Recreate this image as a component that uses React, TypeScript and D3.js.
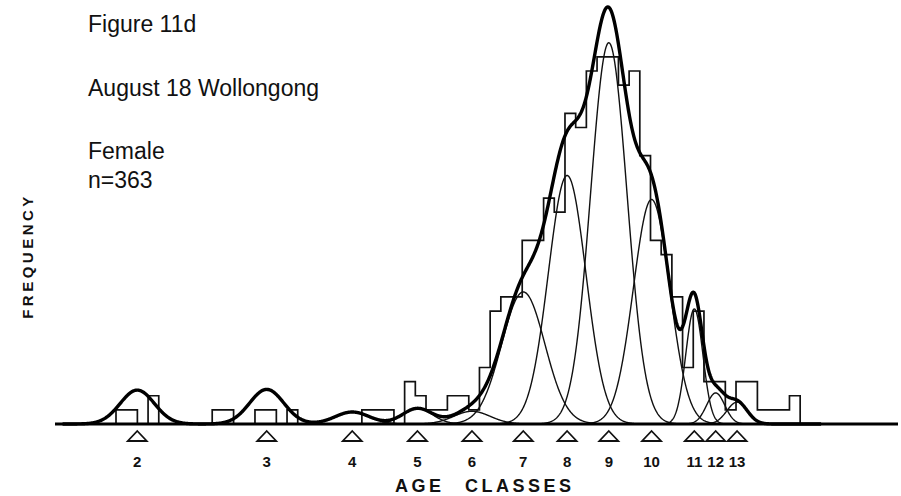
import React from "react";
import * as d3 from "d3";

// Histogram counts per size bin (bin index 0..63), n = 363
const binCounts = [
  1, 1, 0, 2, 0, 0, 0, 0, 0, 1, 1, 0, 0, 1, 1, 0, 1, 0, 0, 0, 0, 0, 0,
  1, 1, 1, 0, 3, 2, 1, 1, 2, 2, 1,
  4, 8, 9, 9, 13, 13, 16, 15, 22, 21,
  25, 26, 26, 24, 25, 19, 13, 12, 9, 4,
  8, 3, 3, 1, 3, 3, 1, 1, 1, 2,
];

// Fitted age-class components (means/sd in bin units, peak in counts)
const classLabels = ["2", "3", "4", "5", "6", "7", "8", "9", "10", "11", "12", "13"];
const classMeans = [1.99, 14.1, 22.1, 28.2, 33.3, 38.1, 42.2, 46.1, 50.1, 54.1, 56.1, 58.1];
const classSDs = [1.6, 1.6, 1.6, 1.4, 1.7, 2.02, 1.76, 1.7, 1.7, 0.8, 0.85, 0.95];
const classPeaks = [2.4, 2.45, 0.85, 1.1, 0.9, 9.35, 17.6, 27.0, 15.9, 8.15, 2.2, 1.55];

const titleLines = ["Figure 11d", "August 18 Wollongong", "Female", "n=363"];

const W = 901;
const H = 496;
const FONT = "'Liberation Sans', Arial, Helvetica, sans-serif";

export default function App() {
  const x = d3.scaleLinear().domain([0, 64]).range([116, 116 + 64 * 10.69]);
  const y = d3.scaleLinear().domain([0, 26]).range([424, 424 - 26 * 14.12]);

  // histogram step outline
  const histPts: [number, number][] = [];
  histPts.push([0, 0]);
  binCounts.forEach((c, i) => {
    histPts.push([i, c]);
    histPts.push([i + 1, c]);
  });
  histPts.push([binCounts.length, 0]);
  const histLine = d3
    .line<[number, number]>()
    .x((d) => x(d[0]))
    .y((d) => y(d[1]));

  const gauss = (k: number, i: number) =>
    classPeaks[i] * Math.exp(-((k - classMeans[i]) ** 2) / (2 * classSDs[i] ** 2));

  const curve = d3
    .line<[number, number]>()
    .x((d) => x(d[0]))
    .y((d) => y(d[1]))
    .curve(d3.curveLinear);

  const compPaths = classMeans.map((m, i) => {
    const s = classSDs[i];
    const ks = d3.range(m - 4.5 * s, m + 4.5 * s, 0.04);
    return curve(ks.map((k) => [k, gauss(k, i)] as [number, number]));
  });

  const totalKs = d3.range(-5, 66, 0.04);
  const totalPath = curve(
    totalKs.map((k) => [k, d3.sum(classMeans, (_, i) => gauss(k, i))] as [number, number])
  );

  const baseY = y(0);

  return (
    <svg
      width={W}
      height={H}
      style={{ position: "absolute", left: 0, top: 0, background: "#fff" }}
      fontFamily={FONT}
    >
      <rect x={0} y={0} width={W} height={H} fill="#fff" />
      {/* title texts */}
      <text x={88} y={32} fontSize={23} fill="#111">{titleLines[0]}</text>
      <text x={88} y={96} fontSize={23} fill="#111">{titleLines[1]}</text>
      <text x={88} y={159} fontSize={23} fill="#111">{titleLines[2]}</text>
      <text x={88} y={188} fontSize={23} fill="#111">{titleLines[3]}</text>

      <text
        transform="translate(33,256) rotate(-90)"
        textAnchor="middle"
        fontSize={15}
        fontWeight="bold"
        letterSpacing={3.5}
        fill="#111"
      >
        FREQUENCY
      </text>

      {/* histogram */}
      <path d={histLine(histPts) || ""} fill="none" stroke="#111" strokeWidth={1.7} />

      {/* components */}
      {compPaths.map((p, i) => (
        <path key={i} d={p || ""} fill="none" stroke="#111" strokeWidth={1.4} />
      ))}

      {/* total */}
      <path d={totalPath || ""} fill="none" stroke="#000" strokeWidth={3.4} strokeLinejoin="round" />

      {/* baseline */}
      <line x1={55} x2={898} y1={baseY} y2={baseY} stroke="#000" strokeWidth={3} />

      {/* triangles and labels */}
      {classMeans.map((m, i) => {
        const cx = x(m);
        return (
          <g key={i}>
            <path
              d={`M${cx},431 L${cx + 9.5},441 L${cx - 9.5},441 Z`}
              fill="#fff"
              stroke="#111"
              strokeWidth={1.8}
            />
            <text x={cx} y={467} textAnchor="middle" fontSize={15} fontWeight="bold" fill="#111">
              {classLabels[i]}
            </text>
          </g>
        );
      })}

      <text x={395} y={492} fontSize={18} fontWeight="bold" letterSpacing={3.5} fill="#111">
        AGE
      </text>
      <text x={465} y={492} fontSize={18} fontWeight="bold" letterSpacing={3.5} fill="#111">
        CLASSES
      </text>
    </svg>
  );
}
